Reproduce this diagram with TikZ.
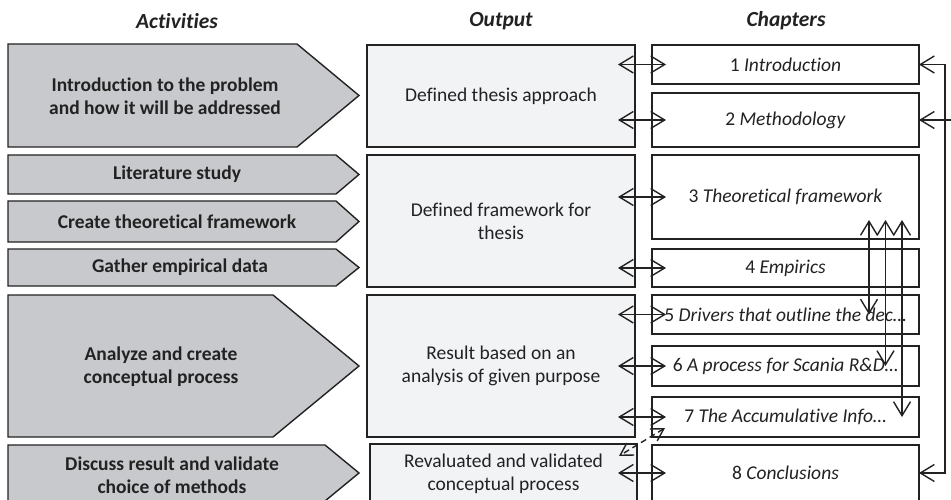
\documentclass[tikz,border=0pt]{standalone}
\usepackage{fontspec}
\setmainfont{Carlito}[Ligatures={NoCommon}]
\usetikzlibrary{arrows.meta,calc}
\definecolor{actfill}{RGB}{200,201,204}
\definecolor{outfill}{RGB}{242,243,245}
\definecolor{edge}{RGB}{34,34,34}
\tikzset{
  actshape/.style={draw=edge, line width=1.4pt, fill=actfill},
  acttext/.style={font=\bfseries\fontsize{19.5}{23}\selectfont, align=center, text=edge},
  outbox/.style={draw=edge, line width=1.4pt, fill=outfill, minimum width=268pt,
    outer sep=0pt, align=center, font=\fontsize{19.5}{23}\selectfont, text=edge},
  chapbox/.style={draw=edge, line width=1.4pt, fill=white, minimum width=267pt,
    outer sep=0pt, font=\fontsize{19.5}{23}\selectfont, text=edge},
  heading/.style={font=\bfseries\itshape\fontsize{21.5}{25}\selectfont, text=edge},
  barb/.tip={Straight Barb[length=14pt,width=17pt]},
  smallbarb/.tip={Straight Barb[length=12pt,width=14pt]},
  link/.style={line width=1.4pt, draw=edge, barb-barb},
  onelink/.style={line width=1.4pt, draw=edge, -barb},
  dashlink/.style={line width=1.4pt, draw=edge, dash pattern=on 6pt off 4pt, smallbarb-smallbarb},
}
\begin{document}
\begin{tikzpicture}[x=1pt,y=-1pt]
\useasboundingbox (0,0) rectangle (951,500);
\clip (0,0) rectangle (951,500);

% column headings
\node[heading] (hAct) at (177,21) {Activities};
\node[heading] (hOut) at (501,21) {Output};
\node[heading] (hChap) at (786,21) {Chapters};

% activities (arrow-shaped panels)
\draw[actshape] (8,44) -- (297,44) -- (359,95.5) -- (297,147) -- (8,147) -- cycle;
\draw[actshape] (8,155) -- (336,155) -- (359,174.5) -- (336,194) -- (8,194) -- cycle;
\draw[actshape] (8,201) -- (336,201) -- (359,221.5) -- (336,242) -- (8,242) -- cycle;
\draw[actshape] (8,249) -- (336,249) -- (359,267.5) -- (336,286) -- (8,286) -- cycle;
\draw[actshape] (8,295) -- (273,295) -- (359,366) -- (273,437) -- (8,437) -- cycle;
\draw[actshape] (8,445) -- (325,445) -- (359,473) -- (325,501) -- (8,501) -- cycle;

\node[acttext] (a1) at (165,96) {Introduction to the problem\\and how it will be addressed};
\node[acttext] (a2) at (177,174.5) {Literature study};
\node[acttext] (a3) at (177,221.5) {Create theoretical framework};
\node[acttext] (a4) at (180,267.5) {Gather empirical data};
\node[acttext] (a5) at (161,367) {Analyze and create\\conceptual process};
\node[acttext] (a6) at (172,475) {Discuss result and validate\\choice of methods};

% outputs
\node[outbox, minimum height=102pt] (o1) at (501,96) {Defined thesis approach};
\node[outbox, minimum height=132pt] (o2) at (501,221) {Defined framework for\\thesis};
\node[outbox, minimum height=142pt] (o3) at (501,366) {Result based on an\\analysis of given purpose};
\node[outbox, minimum height=59pt, minimum width=267pt] (o4) at (503.5,473.5) {Revaluated and validated\\conceptual process};

% chapters
\node[chapbox, minimum height=39pt] (ch1) at (785.5,64.5) {1 \textit{Introduction}};
\node[chapbox, minimum height=54pt] (ch2) at (785.5,120) {2 \textit{Methodology}};
\node[chapbox, minimum height=84pt] (ch3) at (785.5,197) {3 \textit{Theoretical framework}};
\node[chapbox, minimum height=38pt] (ch4) at (785.5,268) {4 \textit{Empirics}};
\node[chapbox, minimum height=39pt] (ch5) at (785.5,314.5) {5 \textit{Drivers that outline the dec…}};
\node[chapbox, minimum height=40pt] (ch6) at (785.5,366) {6 \textit{A process for Scania R\&D…}};
\node[chapbox, minimum height=40pt] (ch7) at (785.5,417) {7 \textit{The Accumulative Info…}};
\node[chapbox, minimum height=56pt] (ch8) at (785.5,473) {8 \textit{Conclusions}};

% output <-> chapter links
\coordinate (outR) at (618,0);
\foreach \c in {ch1,ch2,ch3,ch4,ch5,ch6,ch7,ch8}
  \draw[link] (outR |- \c.west) -- ($(\c.west)+(14,0)$);

% links from the theoretical framework to chapters 5-7
\coordinate (v1) at (869,220);
\coordinate (v2) at (885.5,220);
\coordinate (v3) at (902,220);
\draw[link] (v1) -- (v1 |- ch5.center);
\draw[link] (v2) -- (v2 |- ch6.center);
\draw[link] (v3) -- (v3 |- ch7.center);

% loop on the right: introduction, methodology and conclusions
\draw[link] (ch1.east) -- ++(26,0) |- (ch8.east);
\coordinate (edgeR) at (953,120);
\draw[onelink] (edgeR) -- (ch2.east);

% dashed feedback link
\draw[dashlink] ($(ch7.south west)+(13,-9)$) -- ($(o4.north east)+(-18,12)$);
\end{tikzpicture}
\end{document}
